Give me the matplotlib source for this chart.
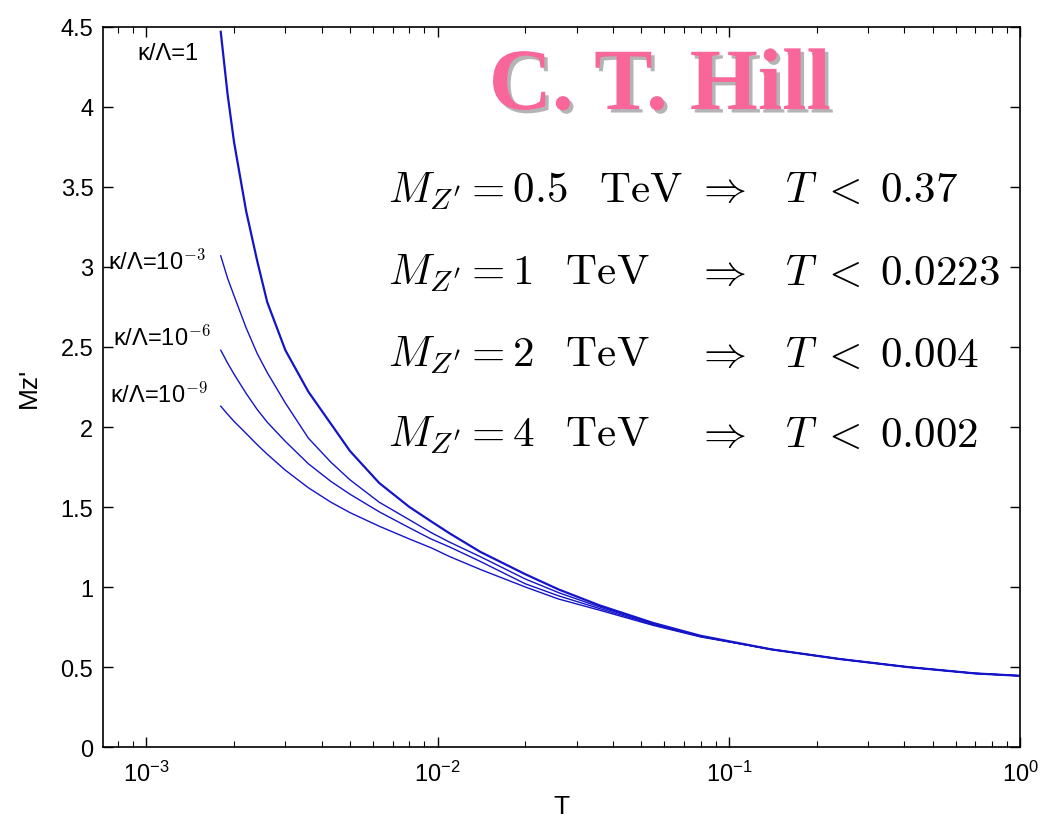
import matplotlib
matplotlib.use("Agg")
import matplotlib.pyplot as plt
import matplotlib.patheffects as pe
from matplotlib.ticker import FixedLocator, LogLocator, NullFormatter

plt.rcParams["font.family"] = ["Liberation Sans", "DejaVu Sans"]
plt.rcParams["mathtext.fontset"] = "cm"

# temperature grid
T = [1.8e-3, 1.9e-3, 2.0e-3, 2.2e-3, 2.4e-3, 2.6e-3, 3.0e-3, 3.6e-3, 4.3e-3,
     5.0e-3, 6.3e-3, 8.0e-3, 9.5e-3, 1.1e-2, 1.4e-2, 2.0e-2, 2.6e-2, 3.6e-2,
     5.5e-2, 8.0e-2, 0.14, 0.24, 0.41, 0.7, 1.0]

# Mz' for the four couplings
mz_k0 = [4.47, 4.08, 3.78, 3.35, 3.04, 2.78, 2.48, 2.22, 2.02, 1.85, 1.65,
         1.50, 1.41, 1.335, 1.22, 1.08, 0.985, 0.885, 0.775, 0.695,
         0.61, 0.55, 0.50, 0.46, 0.445]
mz_k3 = [3.07, 2.93, 2.82, 2.62, 2.46, 2.34, 2.15, 1.93, 1.78, 1.67, 1.53,
         1.42, 1.34, 1.28, 1.19, 1.05, 0.965, 0.875, 0.77, 0.692,
         0.61, 0.55, 0.50, 0.46, 0.445]
mz_k6 = [2.48, 2.40, 2.33, 2.21, 2.11, 2.03, 1.91, 1.77, 1.66, 1.58, 1.47,
         1.37, 1.30, 1.25, 1.16, 1.02, 0.945, 0.865, 0.765, 0.69,
         0.61, 0.55, 0.50, 0.46, 0.445]
mz_k9 = [2.13, 2.08, 2.035, 1.96, 1.89, 1.83, 1.73, 1.62, 1.53, 1.465, 1.38,
         1.30, 1.245, 1.19, 1.11, 1.00, 0.925, 0.855, 0.76, 0.688,
         0.61, 0.55, 0.50, 0.46, 0.445]

curve_labels = [r"κ/Λ=1", r"κ/Λ=10$^{-3}$", r"κ/Λ=10$^{-6}$", r"κ/Λ=10$^{-9}$"]

bounds_left = [r"$M_{Z'}=0.5\;\;\;\mathrm{TeV}$", r"$M_{Z'}=1\;\;\;\mathrm{TeV}$",
               r"$M_{Z'}=2\;\;\;\mathrm{TeV}$", r"$M_{Z'}=4\;\;\;\mathrm{TeV}$"]
bounds_right = [r"$\Rightarrow\;\;\;T\;<\;0.37$", r"$\Rightarrow\;\;\;T\;<\;0.0223$",
                r"$\Rightarrow\;\;\;T\;<\;0.004$", r"$\Rightarrow\;\;\;T\;<\;0.002$"]

yticks = [0, 0.5, 1, 1.5, 2, 2.5, 3, 3.5, 4, 4.5]
ytick_labels = ["0", "0.5", "1", "1.5", "2", "2.5", "3", "3.5", "4", "4.5"]

fig = plt.figure(figsize=(10.41, 8.28), dpi=100)
ax = fig.add_axes([0.099, 0.0966, 0.881, 0.8696])

line_color = "#1414c8"
ax.plot(T, mz_k0, color=line_color, lw=1.6)
ax.plot(T, mz_k3, color=line_color, lw=1.0)
ax.plot(T, mz_k6, color=line_color, lw=1.0)
ax.plot(T, mz_k9, color=line_color, lw=1.0)

ax.set_xscale("log")
ax.set_xlim(7.1e-4, 1.0)
ax.set_ylim(0, 4.5)
ax.yaxis.set_major_locator(FixedLocator(yticks))
ax.set_yticklabels(ytick_labels)
ax.xaxis.set_major_locator(LogLocator(base=10, numticks=10))
ax.xaxis.set_minor_locator(LogLocator(base=10, subs=range(2, 10), numticks=20))
ax.xaxis.set_minor_formatter(NullFormatter())

ax.tick_params(which="both", direction="in", top=True, right=True, labelsize=17)
ax.tick_params(which="major", length=7, width=1)
ax.tick_params(which="minor", length=4, width=0.8)
ax.tick_params(axis="x", pad=10)
ax.tick_params(axis="y", pad=7)
for s in ax.spines.values():
    s.set_linewidth(1.2)

ax.set_xlabel("T", fontsize=19, labelpad=6)
ax.set_ylabel("Mz'", fontsize=19, labelpad=14)

# curve labels
label_pos = [(0.037, 0.955), (0.005, 0.664), (0.011, 0.558), (0.008, 0.479)]
for txt, (lx, ly) in zip(curve_labels, label_pos):
    ax.text(lx, ly, txt, transform=ax.transAxes, fontsize=17, va="baseline")

# mass bounds
rows_y = [0.758, 0.643, 0.529, 0.418]
for left, right, ry in zip(bounds_left, bounds_right, rows_y):
    ax.text(0.311, ry, left, transform=ax.transAxes, fontsize=31, va="baseline")
    ax.text(0.646, ry, right, transform=ax.transAxes, fontsize=31, va="baseline")

ax.text(0.607, 0.886, "C. T. Hill", transform=ax.transAxes, ha="center",
        va="baseline", fontsize=63, fontweight="bold", family="Liberation Serif",
        color="#f8669a",
        path_effects=[pe.SimplePatchShadow(offset=(2.5, -2.5), shadow_rgbFace="#b4b4b4", alpha=1.0),
                      pe.Normal()])

fig.savefig("out.png", dpi=100)
